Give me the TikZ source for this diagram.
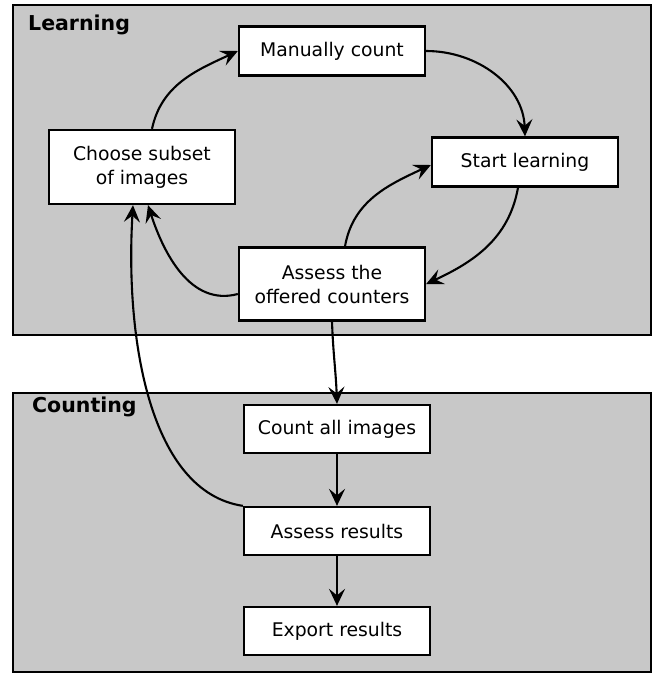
\documentclass[tikz,border=0pt]{standalone}
\usepackage{fontspec}
\setmainfont{DejaVu Sans}
\usetikzlibrary{arrows.meta}
\definecolor{panel}{RGB}{200,200,200}
\begin{document}
\begin{tikzpicture}[x=1pt,y=1pt,
  panelbox/.style={draw=black,line width=2.2pt,fill=panel},
  stepbox/.style={draw=black,line width=2.3pt,fill=white,minimum width=186pt,inner sep=0pt,align=center,font=\fontsize{18.8}{24}\selectfont},
  title/.style={font=\fontsize{20.5}{22}\selectfont\bfseries,anchor=west,inner sep=0pt},
  conn/.style={line width=2.1pt,-{Stealth[length=17pt,width=16pt,inset=6.5pt]}}
]
\useasboundingbox (0,0) rectangle (654,-675);
\draw[panelbox] (13,-5) rectangle (651,-335);
\draw[panelbox] (13,-393) rectangle (651,-672);
\node[title] (tlearn) at (28,-25) {Learning};
\node[title] (tcount) at (32,-407) {Counting};

\node[stepbox,minimum height=49pt] (mc) at (332,-51) {Manually count};
\node[stepbox,minimum height=74pt] (cs) at (142,-167) {Choose subset\\of images};
\node[stepbox,minimum height=49pt] (sl) at (525,-162) {Start learning};
\node[stepbox,minimum height=73pt] (ao) at (332,-284) {Assess the\\offered counters};
\node[stepbox,minimum height=48pt] (ca) at (337,-429) {Count all images};
\node[stepbox,minimum height=48pt] (ar) at (337,-531) {Assess results};
\node[stepbox,minimum height=48pt] (er) at (337,-631) {Export results};

\draw[conn] ([xshift=10pt]cs.north) to[out=78,in=205] (mc.west);
\draw[conn] (mc.east) to[out=0,in=92] (sl.north);
\draw[conn] ([xshift=-7pt]sl.south) to[out=-100,in=25] (ao.east);
\draw[conn] ([xshift=13pt]ao.north) to[out=80,in=205] ([yshift=-3pt]sl.west);
\draw[conn] ([yshift=-10pt]ao.west) to[out=195,in=-72] ([xshift=6pt]cs.south);
\draw[conn] (ao.south) to[out=-88,in=92] (ca.north);
\draw[conn] (ca.south) -- (ar.north);
\draw[conn] (ar.south) -- (er.north);
\draw[conn] (ar.north west) .. controls (150,-492) and (125,-340) .. ([xshift=-9pt]cs.south);
\end{tikzpicture}
\end{document}
